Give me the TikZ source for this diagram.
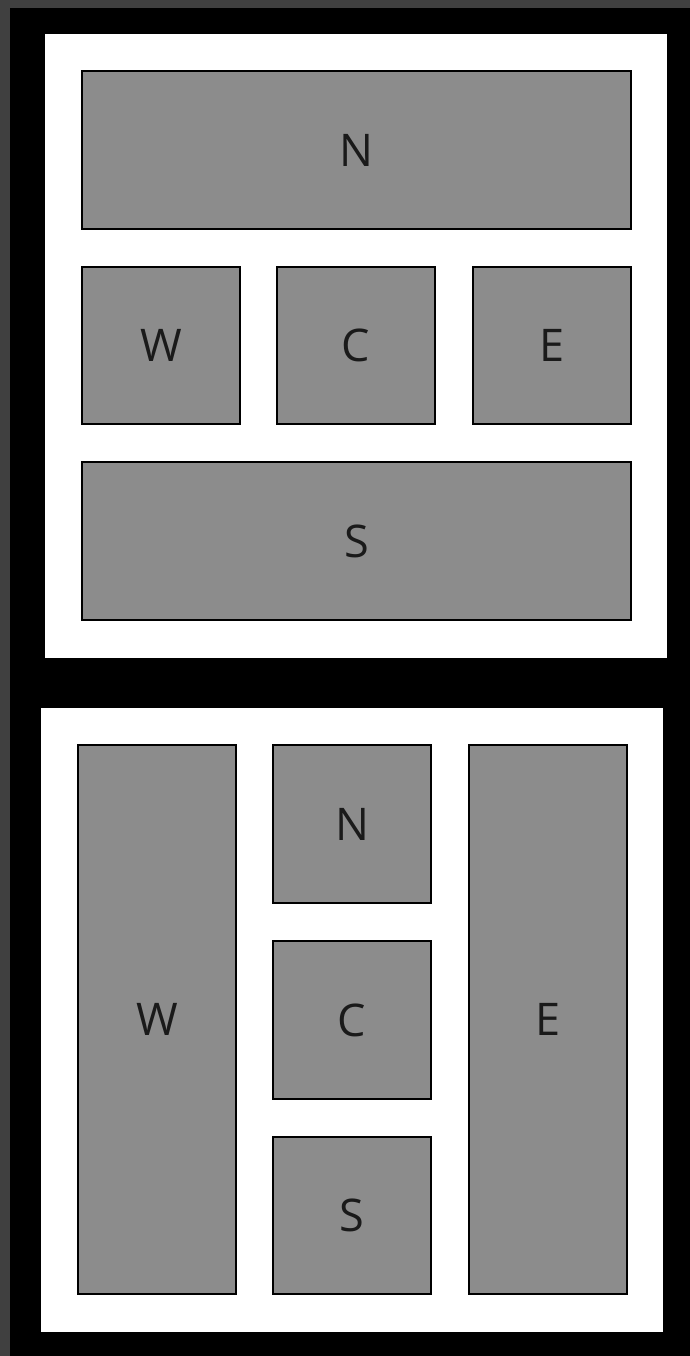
\documentclass[tikz,border=0pt]{standalone}
\usepackage{fontspec}
\setmainfont{Open Sans}
\definecolor{strip}{HTML}{404040}
\definecolor{boxgray}{HTML}{8C8C8C}
\definecolor{txt}{HTML}{1A1A1A}
\tikzset{
  panel/.style={fill=white, draw=none},
  region/.style={fill=boxgray, draw=black, line width=1.8pt},
  lbl/.style={font=\fontsize{45}{45}\selectfont, text=txt, inner sep=0pt, anchor=center}
}
\begin{document}
\begin{tikzpicture}[x=1pt,y=-1pt]
\useasboundingbox (0,0) rectangle (690,1356);
\fill[strip] (0,0) rectangle (690,1356);
\fill[black] (10,8) rectangle (690,1356);
% top panel
\fill[panel] (45,34) rectangle (667,658);
\draw[region] (82,71) rectangle (631,229) node[midway,lbl] (tN) {N};
\draw[region] (82,267) rectangle (240,424) node[midway,lbl] (tW) {W};
\draw[region] (277,267) rectangle (435,424) node[midway,lbl] (tC) {C};
\draw[region] (473,267) rectangle (631,424) node[midway,lbl] (tE) {E};
\draw[region] (82,462) rectangle (631,620) node[midway,lbl] (tS) {S};
% bottom panel
\fill[panel] (41,708) rectangle (663,1332);
\draw[region] (78,745) rectangle (236,1294) node[midway,lbl] (bW) {W};
\draw[region] (273,745) rectangle (431,903) node[midway,lbl] (bN) {N};
\draw[region] (273,941) rectangle (431,1099) node[midway,lbl] (bC) {C};
\draw[region] (273,1137) rectangle (431,1294) node[midway,lbl] (bS) {S};
\draw[region] (469,745) rectangle (627,1294) node[midway,lbl] (bE) {E};
\end{tikzpicture}
\end{document}
